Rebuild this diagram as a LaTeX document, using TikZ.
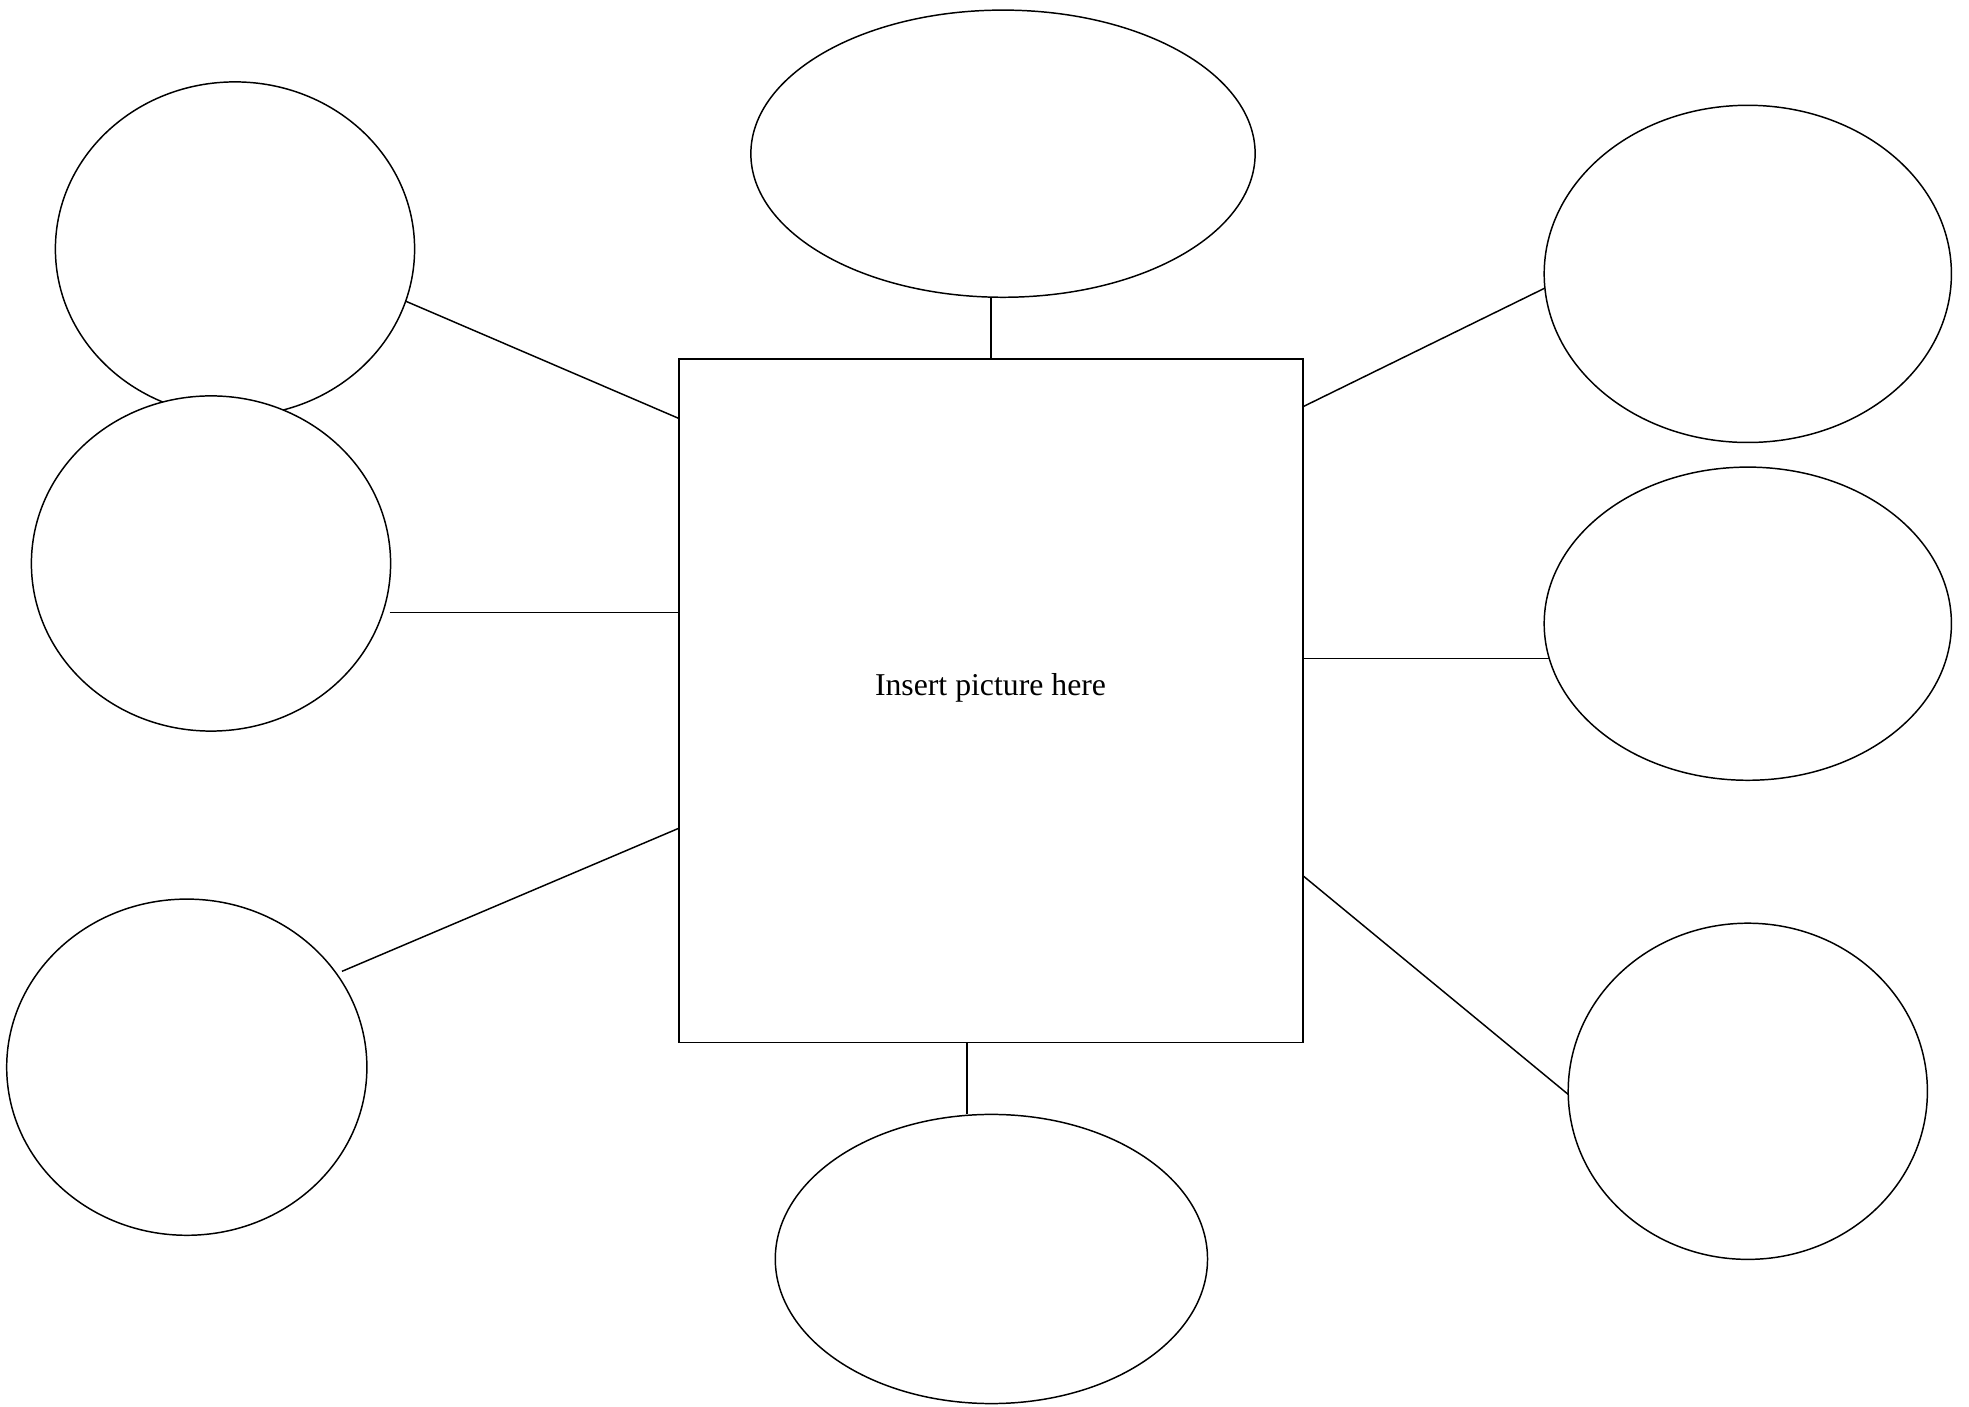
\documentclass[tikz,border=0pt]{standalone}
\usepackage{fontspec}
\setmainfont{Liberation Serif}
\usetikzlibrary{shapes.geometric}

\begin{document}
\begin{tikzpicture}[x=0.01cm, y=-0.01cm, line width=0.42pt,
	blob/.style={ellipse, draw=black, fill=white, inner sep=0pt, outer sep=0pt},
	picbox/.style={rectangle, draw=black, inner sep=0pt, outer sep=0pt, minimum width=6.24cm, minimum height=6.83cm},
	every path/.style={draw=black}]
			\path[use as bounding box, draw=none] (0,0) rectangle (1969,1407);
			\node[blob, minimum width=5.04cm, minimum height=2.87cm] (top) at (1003,153.7){};
			\node[blob, minimum width=3.59cm, minimum height=3.34cm] (ul) at (235,249){};
			\node[blob, minimum width=3.59cm, minimum height=3.35cm] (ml) at (211,563.5){};
			\node[blob, minimum width=3.60cm, minimum height=3.36cm] (ll) at (186.8,1067.2){};
			\node[blob, minimum width=4.32cm, minimum height=2.89cm] (bot) at (991.4,1259){};
			\node[blob, minimum width=4.07cm, minimum height=3.37cm] (rt) at (1747.8,273.9){};
			\node[blob, minimum width=4.07cm, minimum height=3.13cm] (rm) at (1747.8,623.7){};
			\node[blob, minimum width=3.59cm, minimum height=3.36cm] (rb) at (1747.8,1091.3){};
			\node[picbox] (pic) at (991,700.7){};
			\node[draw=none, font=\fontsize{9.03}{11}\selectfont] (txt) at (990.5,687.6) {Insert picture here};
			
			\path (pic.north) edge (pic.north |- top.south);
			\path (pic.-94) edge (pic.-94 |- bot.north);
			\path (ul.-17) edge ([yshift=-0.594cm]pic.north west);
			\path (ml.-16) edge[shorten <=0.07cm] (ml.-16 -| pic.west);
			\path (ll.32) edge[shorten <=0.06cm] ([yshift=2.14cm]pic.south west);
			\path ([yshift=-0.476cm]pic.north east) edge (rt.184);
			\path (rm.190 -| pic.east) edge (rm.190);
			\path ([yshift=-1.751cm]pic.east) edge (rb.181);
			\end{tikzpicture}
\end{document}
